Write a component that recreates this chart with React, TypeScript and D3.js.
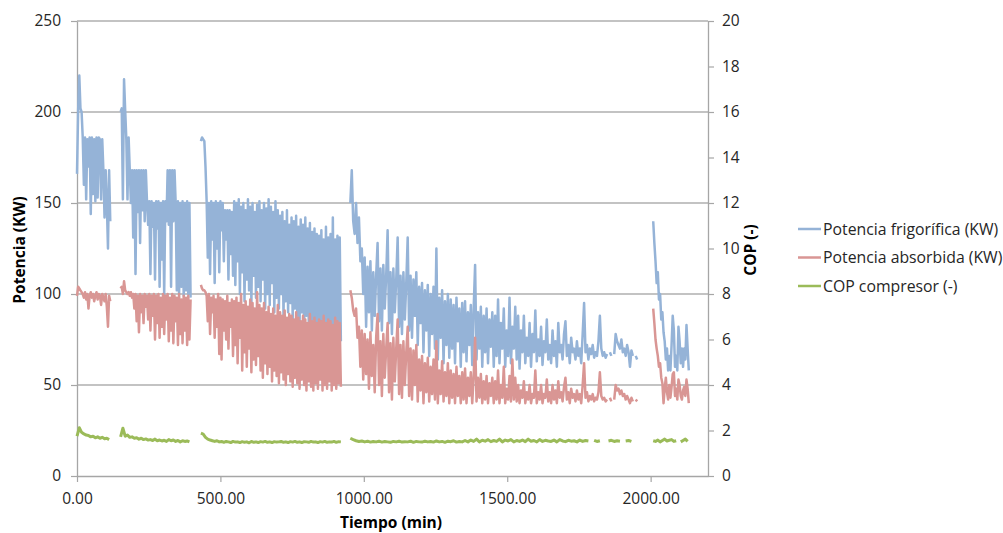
import React, { useEffect, useRef } from "react";
import * as d3 from "d3";

// start (min) of every recorded block and its sample spacing (min)
const blockStart = [0, 152, 432, 953, 2009];
const kwStep = [4, 4, 4, 5, 4];
const copStep = [8, 8, 8, 10, 8];

// Potencia frigorífica (KW)
const frigA = [166, 201, 220, 202, 200, 186, 160, 186, 152, 185, 170, 186, 144, 186, 155, 185, 151, 186, 153, 186, 185, 152, 185, 168, 142, 168, 150, 125, 168, 140];
const frigB = [
  200, 202, 152, 218, 201, 185, 152, 186, 168, 150,
  168, 131, 168, 111, 168, 145, 168, 128, 168, 146,
  168, 140, 168, 151, 138, 151, 111, 151, 137, 150,
  108, 151, 136, 151, 104, 150, 119, 151, 100, 151,
  140, 168, 138, 168, 104, 168, 140, 168, 150, 102,
  151, 100, 150, 104, 151, 99, 150, 102, 151, 100,
  150, 98,
];
const frigC = [
  184, 186, 185, 184, 170, 151, 120, 150, 111, 151,
  130, 150, 106, 151, 125, 150, 112, 151, 135, 150,
  118, 146, 130, 146, 108, 146, 122, 145, 110, 151,
  105, 150, 118, 152, 100, 148, 112, 150, 96, 146,
  108, 152, 102, 148, 95, 150, 110, 145, 98, 149,
  104, 151, 96, 146, 108, 150, 92, 147, 100, 152,
  94, 148, 106, 145, 90, 151, 98, 146, 92, 143,
  100, 145, 88, 140, 96, 146, 90, 138, 95, 142,
  86, 140, 92, 143, 88, 137, 84, 141, 90, 138,
  82, 142, 88, 136, 85, 139, 80, 134, 86, 136,
  78, 133, 69, 132, 84, 135, 76, 130, 80, 137,
  74, 131, 82, 133, 72, 142, 76, 130, 71, 132,
  80, 131, 74,
];
const frigD = [
  150, 168, 140, 133, 150, 128, 142, 118, 125, 100,
  120, 82, 115, 90, 118, 80, 112, 88, 110, 128,
  85, 114, 80, 116, 92, 110, 135, 84, 112, 78,
  114, 90, 108, 131, 82, 110, 78, 112, 86, 106,
  131, 80, 110, 76, 108, 88, 112, 72, 104, 84,
  106, 68, 102, 80, 105, 66, 100, 78, 104, 70,
  125, 64, 98, 76, 102, 62, 96, 72, 100, 65,
  97, 70, 94, 62, 98, 74, 92, 60, 95, 68,
  96, 63, 90, 72, 94, 61, 92, 116, 64, 90,
  70, 93, 60, 88, 68, 92, 62, 86, 71, 90,
  60, 88, 66, 97, 62, 84, 70, 92, 60, 80,
  66, 98, 62, 82, 70, 93, 64, 88, 59, 80,
  68, 88, 62, 76, 66, 84, 60, 78, 68, 91,
  63, 75, 66, 82, 61, 74, 68, 86, 64, 72,
  62, 80, 66, 74, 60, 84, 68, 72, 64, 78,
  85, 66, 72, 62, 76, 68, 70, 64, 74, 66,
  70, 62, 78, 95, 68, 72, 64, 70, 67, 72,
  65, 68, 66, 74, 88, 70, 66, 68, 65, 67,
  null, 68, 66, null, 67, 78, 74, 72, 70, 75,
  68, 70, 66, 72, 68, 60, 69, 66, null, 66,
  64,
];
const frigE = [140, 128, 118, 106, 112, 97, 100, 86, 90, 79, 74, 64, 70, 58, 66, 58, 72, 88, 80, 60, 66, 58, 82, 74, 62, 70, 60, 70, 64, 83, 70, 58];

// Potencia absorbida (KW)
const absA = [99, 104, 103, 102, 101, 100, 98, 101, 97, 100, 92, 99, 101, 98, 100, 96, 99, 101, 97, 100, 99, 94, 100, 98, 96, 100, 93, 82, 99, 96];
const absB = [
  103, 104, 100, 107, 102, 101, 100, 101, 99, 101,
  98, 100, 92, 100, 85, 99, 79, 100, 90, 99,
  84, 100, 93, 99, 86, 100, 80, 99, 88, 100,
  75, 99, 84, 100, 76, 98, 82, 100, 78, 99,
  86, 100, 74, 98, 80, 100, 73, 99, 85, 98,
  72, 100, 78, 97, 73, 99, 80, 98, 72, 99,
  75, 97,
];
const absC = [
  105, 103, 102, 102, 101, 99, 85, 100, 78, 98,
  90, 99, 76, 97, 82, 100, 67, 98, 64, 97,
  80, 96, 75, 99, 70, 95, 82, 97, 66, 96,
  72, 98, 62, 95, 76, 100, 58, 94, 68, 96,
  60, 93, 70, 97, 57, 95, 64, 92, 61, 101,
  66, 94, 58, 92, 54, 95, 62, 90, 56, 93,
  60, 89, 52, 92, 58, 88, 55, 94, 51, 90,
  57, 88, 53, 91, 50, 87, 56, 89, 52, 88,
  49, 86, 54, 90, 51, 87, 48, 85, 53, 88,
  50, 86, 47, 84, 52, 89, 49, 85, 47, 87,
  51, 84, 48, 86, 53, 85, 47, 88, 50, 84,
  48, 86, 52, 85, 47, 83, 50, 87, 48, 85,
  51, 84, 49,
];
const absD = [
  102, 98, 91, 88, 92, 76, 82, 60, 80, 53,
  78, 56, 75, 48, 79, 55, 72, 46, 76, 89,
  50, 74, 44, 78, 54, 70, 84, 46, 73, 42,
  76, 52, 70, 86, 45, 72, 43, 74, 50, 68,
  82, 44, 70, 42, 69, 50, 72, 41, 64, 47,
  66, 40, 62, 46, 65, 41, 60, 45, 64, 42,
  74, 40, 58, 45, 63, 41, 57, 44, 62, 40,
  58, 43, 56, 40, 60, 44, 55, 40, 57, 42,
  59, 40, 54, 44, 57, 40, 55, 76, 41, 54,
  43, 56, 40, 52, 42, 55, 40, 51, 44, 54,
  40, 52, 42, 58, 40, 50, 43, 60, 40, 48,
  42, 55, 41, 64, 42, 54, 41, 50, 40, 47,
  43, 52, 40, 46, 42, 50, 40, 45, 43, 58,
  40, 46, 42, 50, 40, 45, 43, 53, 41, 46,
  40, 50, 42, 47, 40, 52, 43, 46, 41, 49,
  54, 42, 46, 40, 48, 43, 45, 41, 47, 42,
  45, 40, 50, 62, 43, 46, 41, 44, 42, 45,
  41, 43, 42, 46, 57, 44, 42, 43, 41, 42,
  null, 43, 41, null, 42, 50, 47, 48, 45, 47,
  44, 45, 42, 44, 42, 40, 43, 41, null, 42,
  41,
];
const absE = [92, 84, 75, 70, 66, 60, 62, 54, 51, 40, 48, 54, 46, 42, 50, 43, 49, 56, 57, 44, 48, 42, 53, 50, 44, 42, 47, 49, 44, 53, 48, 40];

// COP compresor (-)
const copA = [1.75, 2.12, 1.92, 1.85, 1.8, 1.78, 1.72, 1.75, 1.68, 1.72, 1.66, 1.7, 1.64, 1.66, 1.6];
const copB = [1.72, 2.1, 1.75, 1.8, 1.7, 1.72, 1.66, 1.68, 1.62, 1.66, 1.6, 1.63, 1.58, 1.6, 1.56, 1.62, 1.55, 1.58, 1.54, 1.57, 1.52, 1.6, 1.55, 1.58, 1.52, 1.56, 1.5, 1.55, 1.52, 1.54, 1.5];
const copC = [
  1.88, 1.84, 1.7, 1.62, 1.58, 1.55, 1.52, 1.55, 1.5, 1.52,
  1.48, 1.52, 1.5, 1.47, 1.52, 1.49, 1.5, 1.47, 1.51, 1.48,
  1.5, 1.46, 1.52, 1.48, 1.5, 1.47, 1.51, 1.49, 1.52, 1.48,
  1.5, 1.47, 1.51, 1.49, 1.5, 1.52, 1.48, 1.5, 1.47, 1.51,
  1.49, 1.52, 1.48, 1.5, 1.47, 1.51, 1.5, 1.48, 1.52, 1.49,
  1.5, 1.47, 1.51, 1.49, 1.52, 1.48, 1.5, 1.49, 1.52, 1.48,
  1.51, 1.5,
];
const copD = [
  1.66, 1.6, 1.55, 1.52, 1.54, 1.5, 1.53, 1.49, 1.52, 1.5,
  1.53, 1.49, 1.52, 1.5, 1.48, 1.52, 1.5, 1.53, 1.49, 1.51,
  1.5, 1.53, 1.48, 1.52, 1.5, 1.49, 1.53, 1.5, 1.52, 1.49,
  1.54, 1.5, 1.52, 1.48, 1.53, 1.51, 1.55, 1.49, 1.52, 1.5,
  1.56, 1.5, 1.58, 1.52, 1.62, 1.5, 1.57, 1.53, 1.6, 1.51,
  1.56, 1.52, 1.62, 1.5, 1.58, 1.54, 1.6, 1.5, 1.56, 1.52,
  1.58, 1.51, 1.62, 1.53, 1.56, 1.5, 1.6, 1.52, 1.57, 1.54,
  1.52, 1.58, 1.5, 1.6, 1.54, 1.51, 1.57, 1.53, 1.55, 1.5,
  1.58, 1.52, 1.56, 1.54, null, 1.57, 1.52, 1.55, null, null,
  1.54, 1.57, 1.52, 1.55, 1.53, null, 1.54, 1.56, 1.52, null,
];
const copE = [1.55, 1.52, 1.58, 1.5, 1.56, 1.62, 1.54, 1.57, 1.6, 1.52, 1.55, null, 1.5, 1.56, 1.62, 1.52];

const frigBlocks = [frigA, frigB, frigC, frigD, frigE];
const absBlocks = [absA, absB, absC, absD, absE];
const copBlocks = [copA, copB, copC, copD, copE];

const xTicks = [0, 500, 1000, 1500, 2000];
const kwTicks = [0, 50, 100, 150, 200, 250];
const copTicks = [0, 2, 4, 6, 8, 10, 12, 14, 16, 18, 20];

const seriesNames = ["Potencia frigorífica (KW)", "Potencia absorbida (KW)", "COP compresor (-)"];
const seriesColors = ["#95B3D7", "#D99694", "#9BBB59"];

const toPoints = (blocks, steps) =>
  blocks.map((vals, b) => vals.map((v, i) => [blockStart[b] + i * steps[b], v]));

const Chart = () => {
  const svgRef = useRef<SVGSVGElement>(null);

  useEffect(() => {
    const svg = d3.select(svgRef.current);
    svg.selectAll("*").remove();
    const font = "'Open Sans', sans-serif";

    const x = d3.scaleLinear().domain([0, 2200]).range([77, 708]);
    const yKw = d3.scaleLinear().domain([0, 250]).range([476, 21]);
    const yCop = d3.scaleLinear().domain([0, 20]).range([476, 21]);

    svg
      .append("g")
      .selectAll("line")
      .data(kwTicks.filter((d) => d > 0))
      .join("line")
      .attr("x1", x(0))
      .attr("x2", x(2200))
      .attr("y1", (d) => yKw(d))
      .attr("y2", (d) => yKw(d))
      .attr("stroke", "#878787")
      .attr("stroke-width", 1.2);

    const styleAxis = (g) => {
      g.select(".domain").attr("stroke", "#A6A6A6").attr("stroke-width", 1.3);
      g.selectAll(".tick line").attr("stroke", "#A6A6A6").attr("stroke-width", 1.2);
      g.selectAll(".tick text")
        .attr("fill", "#262626")
        .style("font-family", font)
        .style("font-size", "15.5px");
    };

    svg
      .append("g")
      .attr("transform", `translate(0,${yKw(0)})`)
      .call(
        d3.axisBottom(x).tickValues(xTicks).tickFormat(d3.format(".2f")).tickSize(6).tickSizeOuter(0).tickPadding(11)
      )
      .call(styleAxis);

    svg
      .append("g")
      .attr("transform", `translate(${x(0)},0)`)
      .call(d3.axisLeft(yKw).tickValues(kwTicks).tickFormat(d3.format("d")).tickSize(6).tickSizeOuter(0).tickPadding(10))
      .call(styleAxis);

    svg
      .append("g")
      .attr("transform", `translate(${x(2200)},0)`)
      .call(d3.axisRight(yCop).tickValues(copTicks).tickFormat(d3.format("d")).tickSize(6).tickSizeOuter(0).tickPadding(8))
      .call(styleAxis);

    const plot = [
      { pts: toPoints(frigBlocks, kwStep), y: yKw, w: 2.5 },
      { pts: toPoints(absBlocks, kwStep), y: yKw, w: 2.5 },
      { pts: toPoints(copBlocks, copStep), y: yCop, w: 3 },
    ];

    plot.forEach((s, k) => {
      const line = d3
        .line()
        .defined((d) => d[1] != null)
        .x((d) => x(d[0]))
        .y((d) => s.y(d[1]));
      svg
        .append("g")
        .selectAll("path")
        .data(s.pts)
        .join("path")
        .attr("d", (d) => line(d))
        .attr("fill", "none")
        .attr("stroke", seriesColors[k])
        .attr("stroke-width", s.w)
        .attr("stroke-linejoin", "round");
    });

    const legend = svg
      .append("g")
      .selectAll("g")
      .data(seriesNames)
      .join("g")
      .attr("transform", (d, i) => `translate(798,${229 + i * 28.5})`);
    legend
      .append("line")
      .attr("x1", 0)
      .attr("x2", 23)
      .attr("stroke", (d, i) => seriesColors[i])
      .attr("stroke-width", 2.5);
    legend
      .append("text")
      .attr("x", 25)
      .attr("dy", "0.35em")
      .text((d) => d)
      .attr("fill", "#262626")
      .style("font-family", font)
      .style("font-size", "15.8px");

    svg
      .append("text")
      .attr("x", 391)
      .attr("y", 528)
      .attr("text-anchor", "middle")
      .text("Tiempo (min)")
      .style("font-family", font)
      .style("font-size", "15.5px")
      .style("font-weight", "bold");

    svg
      .append("text")
      .attr("transform", "translate(25,250) rotate(-90)")
      .attr("text-anchor", "middle")
      .text("Potencia (KW)")
      .style("font-family", font)
      .style("font-size", "15.5px")
      .style("font-weight", "bold");

    svg
      .append("text")
      .attr("transform", "translate(756,250) rotate(-90)")
      .attr("text-anchor", "middle")
      .text("COP (-)")
      .style("font-family", font)
      .style("font-size", "15.5px")
      .style("font-weight", "bold");
  }, []);

  return (
    <svg
      ref={svgRef}
      width={1003}
      height={533}
      style={{ position: "absolute", left: 0, top: 0, background: "#fff" }}
    ></svg>
  );
};

export default function App() {
  return <Chart />;
}
